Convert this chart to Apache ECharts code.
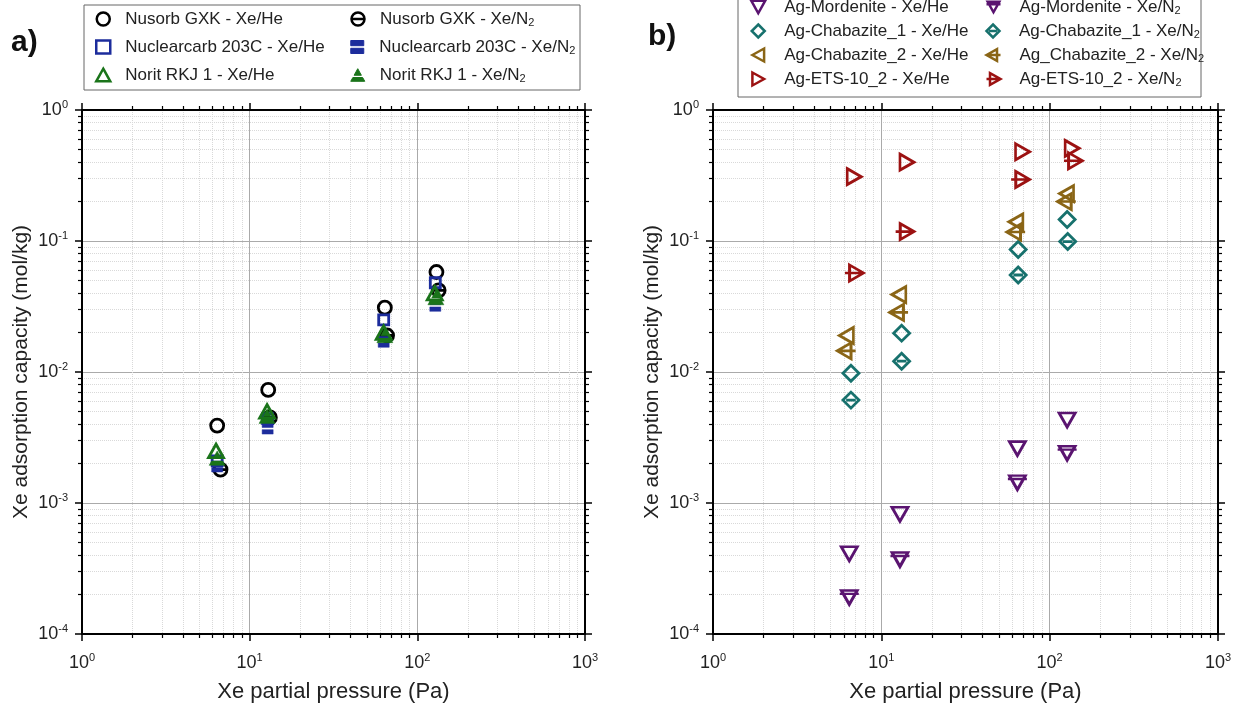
<!DOCTYPE html>
<html>
<head>
<meta charset="utf-8">
<script src="https://cdn.jsdelivr.net/npm/echarts@6/dist/echarts.min.js"></script>
<style>
html, body { margin: 0; padding: 0; background: #fff; }
#chart { width: 1238px; height: 710px; }
</style>
</head>
<body>
<div id="chart"></div>
<script>
// panel a - carbons (x: Xe partial pressure Pa, y: capacity mol/kg)
const nusorbHeX = [6.4, 12.9, 64, 130];
const nusorbHeY = [0.0039, 0.0073, 0.031, 0.058];
const nusorbN2X = [6.7, 13.2, 66, 134];
const nusorbN2Y = [0.0018, 0.0045, 0.019, 0.042];
const nuclearHeX = [6.4, 12.8, 63, 128];
const nuclearHeY = [0.0021, 0.0044, 0.025, 0.048];
const nuclearN2X = [6.4, 12.8, 63, 128];
const nuclearN2Y = [0.0019, 0.0037, 0.017, 0.032];
const noritHeX = [6.3, 12.7, 63, 127];
const noritHeY = [0.0025, 0.0050, 0.020, 0.040];
const noritN2X = [6.4, 12.7, 64, 129];
const noritN2Y = [0.0022, 0.0046, 0.019, 0.037];

// panel b - silver sorbents
const mordHeX = [6.45, 12.9, 64.3, 127];
const mordHeY = [0.00041, 0.00082, 0.0026, 0.0043];
const mordN2X = [6.45, 12.9, 64.3, 127];
const mordN2Y = [0.00019, 0.00037, 0.00143, 0.0024];
const chab1HeX = [6.6, 13.2, 65, 127];
const chab1HeY = [0.0098, 0.0198, 0.086, 0.146];
const chab1N2X = [6.6, 13.2, 65, 128];
const chab1N2Y = [0.0061, 0.0121, 0.055, 0.099];
const chab2HeX = [6.2, 12.7, 63, 126];
const chab2HeY = [0.019, 0.039, 0.14, 0.23];
const chab2N2X = [6.2, 12.7, 63, 126];
const chab2N2Y = [0.0145, 0.0285, 0.117, 0.20];
const etsHeX = [6.9, 14.2, 69, 136];
const etsHeY = [0.31, 0.40, 0.48, 0.51];
const etsN2X = [6.9, 13.8, 67, 138];
const etsN2Y = [0.057, 0.118, 0.295, 0.41];

const xRange = [1, 1000];
const yRange = [0.0001, 1];

const FONT = 'Liberation Sans';
const TXT = '#222';

function pts(xs, ys) {
  return xs.map((x, i) => [x, ys[i]]);
}

function pow10(v) {
  const e = Math.round(Math.log(v) / Math.LN10);
  return '{b|10}{s|' + e + '}';
}

const labelRich = {
  b: { fontSize: 18, lineHeight: 22, fontFamily: FONT, color: TXT },
  s: { fontSize: 11, lineHeight: 11, verticalAlign: 'top', fontFamily: FONT, color: TXT }
};

function xAx(g, pos) {
  const main = pos === 'bottom';
  return {
    type: 'log', logBase: 10, gridIndex: g, position: pos,
    min: xRange[0], max: xRange[1],
    axisLine: { onZero: false, lineStyle: { color: '#000', width: 2 } },
    axisTick: { inside: false, length: 7, lineStyle: { color: '#000', width: 1.5 } },
    minorTick: { show: true, splitNumber: 9, length: 4, lineStyle: { color: '#000', width: 1.2 } },
    splitLine: { show: main, lineStyle: { color: '#aaa', width: 1 } },
    minorSplitLine: { show: main, lineStyle: { color: '#d9d9d9', width: 1, type: 'dotted' } },
    axisLabel: { show: main, margin: 18, formatter: pow10, rich: labelRich },
    name: main ? 'Xe partial pressure (Pa)' : '',
    nameLocation: 'middle', nameGap: 47,
    nameTextStyle: { fontSize: 22, color: TXT, fontFamily: FONT }
  };
}

function yAx(g, pos) {
  const main = pos === 'left';
  return {
    type: 'log', logBase: 10, gridIndex: g, position: pos,
    min: yRange[0], max: yRange[1],
    axisLine: { onZero: false, lineStyle: { color: '#000', width: 2 } },
    axisTick: { inside: false, length: 7, lineStyle: { color: '#000', width: 1.5 } },
    minorTick: { show: true, splitNumber: 9, length: 4, lineStyle: { color: '#000', width: 1.2 } },
    splitLine: { show: main, lineStyle: { color: '#aaa', width: 1 } },
    minorSplitLine: { show: main, lineStyle: { color: '#d9d9d9', width: 1, type: 'dotted' } },
    axisLabel: { show: main, margin: 14, formatter: pow10, rich: labelRich },
    name: main ? 'Xe adsorption capacity (mol/kg)' : '',
    nameLocation: 'middle', nameGap: 50,
    nameTextStyle: { fontSize: 21, color: TXT, fontFamily: FONT }
  };
}

// marker shapes
const SYM = {
  circleBar: 'path://M0,5A5,5,0,1,1,10,5A5,5,0,1,1,0,5ZM0,5L10,5',
  rectBar: 'path://M0,0H10V4H0ZM0,6H10V10H0Z',
  triUp: 'path://M5,0L10,9L0,9Z',
  triUpBar: 'path://M5,0L7.6,4.7L2.4,4.7ZM1.5,6.3L8.5,6.3L10,9L0,9Z',
  triDown: 'path://M0,0H10L5,9Z',
  triDownBar: 'path://M1,0H11L6,9ZM0,2.2H12',
  diamond: 'path://M5,0L10,5L5,10L0,5Z',
  diamondBar: 'path://M5,0L10,5L5,10L0,5ZM2,5H8',
  triLeft: 'path://M0,5L9,0L9,10Z',
  triLeftBar: 'path://M0,5L9,0L9,10ZM0,5H12',
  triRight: 'path://M0,0L9,5L0,10Z',
  triRightBar: 'path://M-3,5H9M0,0L9,5L0,10Z'
};

function open(name, g, xs, ys, color, symbol, size) {
  return {
    name: name, type: 'scatter', xAxisIndex: g * 2, yAxisIndex: g * 2,
    data: pts(xs, ys), symbol: symbol, symbolSize: size,
    itemStyle: { color: 'rgba(255,255,255,0)', borderColor: color, borderWidth: 2.8, opacity: 1 },
    emphasis: { disabled: true }, z: 3
  };
}

function filled(name, g, xs, ys, color, symbol, size) {
  return {
    name: name, type: 'scatter', xAxisIndex: g * 2, yAxisIndex: g * 2,
    data: pts(xs, ys), symbol: symbol, symbolSize: size,
    itemStyle: { color: color, borderColor: color, borderWidth: 0.5, opacity: 1 },
    emphasis: { disabled: true }, z: 3
  };
}

const C = {
  black: '#000000', blue: '#1c2c9c', green: '#1a741a',
  purple: '#5a1470', teal: '#17716d', brown: '#8a6516', red: '#9c1212'
};

const namesA = [
  'Nusorb GXK - Xe/He', 'Nusorb GXK - Xe/N2',
  'Nuclearcarb 203C - Xe/He', 'Nuclearcarb 203C - Xe/N2',
  'Norit RKJ 1 - Xe/He', 'Norit RKJ 1 - Xe/N2'
];
const namesB = [
  'Ag-Mordenite - Xe/He', 'Ag-Mordenite - Xe/N2',
  'Ag-Chabazite_1 - Xe/He', 'Ag-Chabazite_1 - Xe/N2',
  'Ag-Chabazite_2 - Xe/He', 'Ag_Chabazite_2 - Xe/N2',
  'Ag-ETS-10_2 - Xe/He', 'Ag-ETS-10_2 - Xe/N2'
];

const series = [
  open(namesA[0], 0, nusorbHeX, nusorbHeY, C.black, 'circle', 13),
  open(namesA[1], 0, nusorbN2X, nusorbN2Y, C.black, SYM.circleBar, 13),
  open(namesA[2], 0, nuclearHeX, nuclearHeY, C.blue, 'rect', 10),
  filled(namesA[3], 0, nuclearN2X, nuclearN2Y, C.blue, SYM.rectBar, 11),
  open(namesA[4], 0, noritHeX, noritHeY, C.green, SYM.triUp, [15, 13.5]),
  filled(namesA[5], 0, noritN2X, noritN2Y, C.green, SYM.triUpBar, [16, 14.4]),

  open(namesB[0], 1, mordHeX, mordHeY, C.purple, SYM.triDown, [16, 14]),
  open(namesB[1], 1, mordN2X, mordN2Y, C.purple, SYM.triDownBar, [19, 14]),
  open(namesB[2], 1, chab1HeX, chab1HeY, C.teal, SYM.diamond, 16),
  open(namesB[3], 1, chab1N2X, chab1N2Y, C.teal, SYM.diamondBar, 16),
  open(namesB[4], 1, chab2HeX, chab2HeY, C.brown, SYM.triLeft, [14, 16]),
  open(namesB[5], 1, chab2N2X, chab2N2Y, C.brown, SYM.triLeftBar, [18.5, 16]),
  open(namesB[6], 1, etsHeX, etsHeY, C.red, SYM.triRight, [14, 16]),
  open(namesB[7], 1, etsN2X, etsN2Y, C.red, SYM.triRightBar, [18.5, 16])
];

function legendText(pad) {
  return {
    fontSize: 17, color: TXT, fontFamily: FONT, lineHeight: 18, padding: [0, 0, 0, pad],
    rich: { s: { fontSize: 11, lineHeight: 10, verticalAlign: 'bottom', fontFamily: FONT, color: TXT } }
  };
}
function legendFmt(n) {
  return n.replace('/N2', '/N{s|2}');
}
// filled markers keep their white gap in the legend icon
function legendItems(names, filledNames) {
  return names.map(n => filledNames.indexOf(n) >= 0
    ? { name: n, itemStyle: { borderWidth: 1 } }
    : { name: n });
}

const mycharts = echarts.init(document.getElementById('chart'), null, { renderer: 'canvas' });
mycharts.setOption({
  animation: false,
  backgroundColor: '#fff',
  grid: [
    { left: 82, top: 110, width: 503, height: 524 },
    { left: 713, top: 110, width: 505, height: 524 }
  ],
  xAxis: [xAx(0, 'bottom'), xAx(0, 'top'), xAx(1, 'bottom'), xAx(1, 'top')],
  yAxis: [yAx(0, 'left'), yAx(0, 'right'), yAx(1, 'left'), yAx(1, 'right')],
  legend: [
    {
      data: legendItems(namesA, [namesA[3], namesA[5]]),
      left: 95, top: 10, width: 520, padding: 0,
      itemWidth: 14, itemHeight: 13, itemGap: 10,
      itemStyle: { borderWidth: 2.5 },
      textStyle: Object.assign({ width: 215 }, legendText(10)),
      formatter: legendFmt, selectedMode: false
    },
    {
      data: legendItems(namesB, []),
      left: 750, top: -2, width: 490, padding: 0,
      itemWidth: 14, itemHeight: 13, itemGap: 6,
      itemStyle: { borderWidth: 2.5 },
      textStyle: Object.assign({ width: 195 }, legendText(14)),
      formatter: legendFmt, selectedMode: false
    }
  ],
  graphic: [
    { type: 'rect', shape: { x: 84, y: 5, width: 496, height: 85 },
      style: { fill: 'none', stroke: '#666', lineWidth: 1 }, z: -1 },
    { type: 'rect', shape: { x: 738, y: -2, width: 463, height: 99 },
      style: { fill: 'none', stroke: '#666', lineWidth: 1 }, z: -1 },
    { type: 'text', left: 11, top: 28,
      style: { text: 'a)', font: 'bold 30px "Liberation Sans"', fill: '#111' } },
    { type: 'text', left: 648, top: 22,
      style: { text: 'b)', font: 'bold 30px "Liberation Sans"', fill: '#111' } }
  ],
  series: series
});
</script>
</body>
</html>
